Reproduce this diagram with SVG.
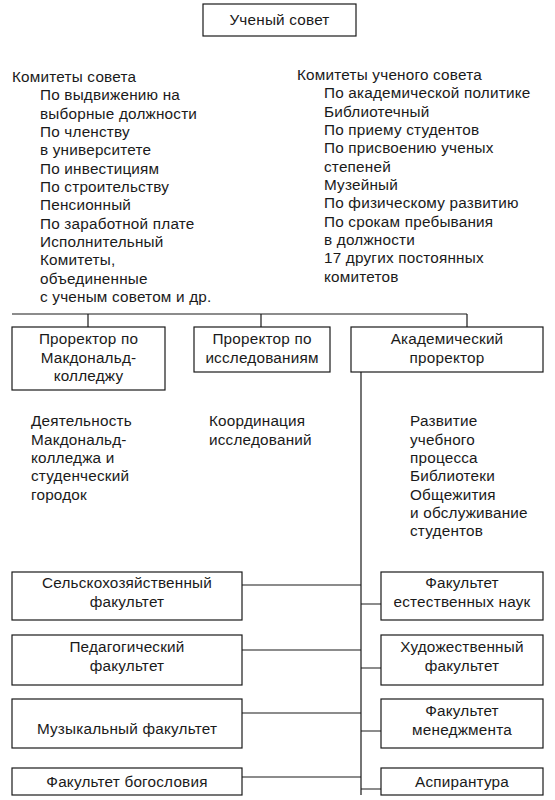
<svg xmlns="http://www.w3.org/2000/svg" width="555" height="800" viewBox="0 0 555 800">
<style>
.b{fill:#fff;stroke:#1a1a1a;stroke-width:1.2}
.l{stroke:#1a1a1a;stroke-width:1.2;fill:none}
text{font-family:"Liberation Sans",Arial,sans-serif;font-size:15.3px;letter-spacing:0.2px;fill:#1a1a1a}
.c{text-anchor:middle}
</style>
<rect width="555" height="800" fill="#fff"/>
<g id="connectors">
<path class="l" d="M12 314H467M88 314V327M261 314V327M467 314V327M361 372V795"/>
<path class="l" d="M242 585H361M242 650H361M242 713H361M242 777H361"/>
<path class="l" d="M361 604H381M361 668H381M361 731H381M361 789H381"/>
</g>
<g id="n-council"><rect class="b" x="203" y="4" width="153" height="32"/><text class="c" x="279.5" y="25">Ученый совет</text></g>
<g id="t-committees-left">
<text x="12" y="82">Комитеты совета</text>
<text x="40" y="100">По выдвижению на</text>
<text x="40" y="118.5">выборные должности</text>
<text x="40" y="137">По членству</text>
<text x="40" y="155">в университете</text>
<text x="40" y="173.5">По инвестициям</text>
<text x="40" y="192">По строительству</text>
<text x="40" y="210">Пенсионный</text>
<text x="40" y="228.5">По заработной плате</text>
<text x="40" y="247">Исполнительный</text>
<text x="40" y="265">Комитеты,</text>
<text x="40" y="283.5">объединенные</text>
<text x="40" y="302">с ученым советом и др.</text>
</g>
<g id="t-committees-right">
<text x="297" y="80">Комитеты ученого совета</text>
<text x="324" y="98">По академической политике</text>
<text x="324" y="116.5">Библиотечный</text>
<text x="324" y="135">По приему студентов</text>
<text x="324" y="153">По присвоению ученых</text>
<text x="324" y="171.5">степеней</text>
<text x="324" y="190">Музейный</text>
<text x="324" y="208">По физическому развитию</text>
<text x="324" y="226.5">По срокам пребывания</text>
<text x="324" y="245">в должности</text>
<text x="324" y="263">17 других постоянных</text>
<text x="324" y="281.5">комитетов</text>
</g>
<g id="n-macdonald"><rect class="b" x="12" y="327" width="153" height="63"/><text class="c" x="88.5" y="344">Проректор по</text><text class="c" x="88.5" y="362.5">Макдональд-</text><text class="c" x="88.5" y="381">колледжу</text></g>
<g id="n-research"><rect class="b" x="194" y="327" width="136" height="45"/><text class="c" x="262" y="344">Проректор по</text><text class="c" x="262" y="362.5">исследованиям</text></g>
<g id="n-academic"><rect class="b" x="351" y="327" width="192" height="45"/><text class="c" x="447" y="344">Академический</text><text class="c" x="447" y="362.5">проректор</text></g>
<g id="t-macdonald">
<text x="31" y="426">Деятельность</text>
<text x="31" y="444.5">Макдональд-</text>
<text x="31" y="463">колледжа и</text>
<text x="31" y="481">студенческий</text>
<text x="31" y="499.5">городок</text>
</g>
<g id="t-research">
<text x="209" y="426">Координация</text>
<text x="209" y="444.5">исследований</text>
</g>
<g id="t-academic">
<text x="410" y="426">Развитие</text>
<text x="410" y="444.5">учебного</text>
<text x="410" y="463">процесса</text>
<text x="410" y="481">Библиотеки</text>
<text x="410" y="499.5">Общежития</text>
<text x="410" y="518">и обслуживание</text>
<text x="410" y="536">студентов</text>
</g>
<g id="n-agri"><rect class="b" x="12" y="572" width="230" height="48"/><text class="c" x="127" y="588">Сельскохозяйственный</text><text class="c" x="127" y="607">факультет</text></g>
<g id="n-pedagog"><rect class="b" x="12" y="635" width="230" height="50"/><text class="c" x="127" y="652">Педагогический</text><text class="c" x="127" y="671">факультет</text></g>
<g id="n-music"><rect class="b" x="12" y="699" width="230" height="49"/><text class="c" x="127" y="734">Музыкальный факультет</text></g>
<g id="n-theology"><rect class="b" x="12" y="768" width="230" height="27"/><text class="c" x="127" y="787">Факультет богословия</text></g>
<g id="n-science"><rect class="b" x="381" y="572" width="162" height="48"/><text class="c" x="462" y="588">Факультет</text><text class="c" x="462" y="607">естественных наук</text></g>
<g id="n-arts"><rect class="b" x="381" y="635" width="162" height="50"/><text class="c" x="462" y="652">Художественный</text><text class="c" x="462" y="671">факультет</text></g>
<g id="n-management"><rect class="b" x="381" y="699" width="162" height="49"/><text class="c" x="462" y="716">Факультет</text><text class="c" x="462" y="735">менеджмента</text></g>
<g id="n-graduate"><rect class="b" x="381" y="768" width="162" height="27"/><text class="c" x="462" y="787">Аспирантура</text></g>
</svg>
